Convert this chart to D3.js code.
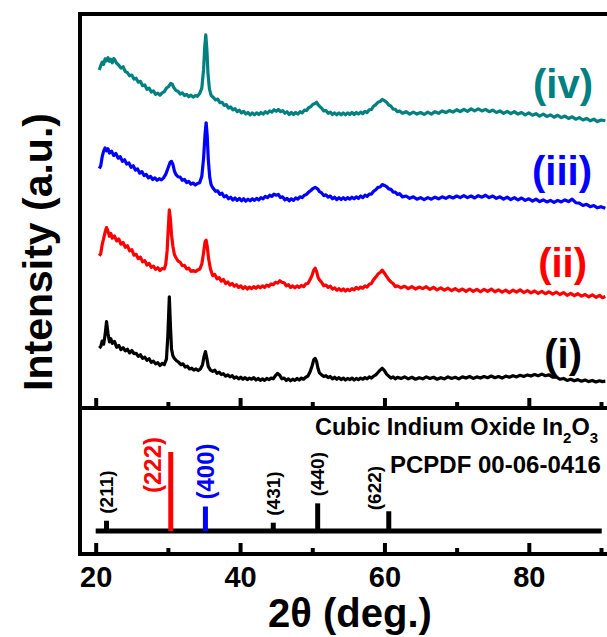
<!DOCTYPE html>
<html><head><meta charset="utf-8">
<script src="https://cdn.jsdelivr.net/npm/d3@7"></script>
<style>body{margin:0;background:#fff}svg{display:block}</style>
</head><body><svg id="chart" width="607" height="637"></svg>
<script>
// 2θ tick positions and labels
const majorTicks = [20, 40, 60, 80];
const minorTicks = [30, 50, 70, 90];

// Sample labels and colours
const sampleLabels = ["(i)", "(ii)", "(iii)", "(iv)"];
const sampleColors = ["#000000", "#ff0000", "#0000ff", "#008080"];

// XRD patterns, [2θ, intensity (a.u., offset stacked)]
const patternI = [[20.5,15.2],[20.7,15.6],[20.9,17.0],[21.1,16.2],[21.3,18.5],[21.5,21.9],[21.7,19.0],[21.9,16.8],[22.1,17.6],[22.3,16.4],[22.6,16.9],[22.9,15.4],[23.2,15.9],[23.5,14.8],[23.8,15.3],[24.1,14.5],[24.4,14.9],[24.7,14.0],[25.0,14.6],[25.3,13.8],[25.6,13.9],[25.9,13.1],[26.2,13.5],[26.5,12.6],[26.8,12.9],[27.1,12.1],[27.4,12.5],[27.7,11.6],[28.0,11.9],[28.3,11.2],[28.6,11.5],[28.9,10.8],[29.2,11.3],[29.5,11.0],[29.8,12.4],[30.0,18.5],[30.2,28.2],[30.35,21.0],[30.5,15.0],[30.7,13.2],[30.9,12.6],[31.2,12.0],[31.5,11.6],[31.8,11.0],[32.1,11.2],[32.4,10.4],[32.7,10.6],[33.0,9.9],[33.3,10.1],[33.6,9.6],[33.9,9.9],[34.2,9.5],[34.5,9.9],[34.8,11.0],[35.0,13.0],[35.2,14.3],[35.4,12.6],[35.6,10.5],[35.9,9.6],[36.2,9.3],[36.5,9.6],[36.8,8.8],[37.1,9.1],[37.4,8.5],[37.7,8.7],[38.0,8.1],[38.3,8.4],[38.6,7.9],[38.9,8.2],[39.2,7.6],[39.5,7.9],[39.8,7.4],[40.1,7.8],[40.4,7.3],[40.7,7.7],[41.0,7.2],[41.3,7.6],[41.6,7.3],[41.9,7.7],[42.2,7.1],[42.5,7.5],[42.8,7.0],[43.1,7.4],[43.4,7.0],[43.7,7.5],[44.0,7.2],[44.3,7.6],[44.6,7.4],[44.9,8.2],[45.2,8.8],[45.5,8.3],[45.8,7.4],[46.1,7.6],[46.4,7.0],[46.7,7.4],[47.0,6.9],[47.3,7.3],[47.6,7.0],[47.9,7.5],[48.2,7.1],[48.5,7.6],[48.8,7.3],[49.1,7.8],[49.4,8.1],[49.7,9.2],[50.0,10.8],[50.2,12.2],[50.4,12.6],[50.6,11.8],[50.8,10.0],[51.0,8.9],[51.3,8.4],[51.6,8.0],[51.9,8.2],[52.2,7.7],[52.5,8.0],[52.8,7.4],[53.1,7.8],[53.4,7.3],[53.7,7.7],[54.0,7.2],[54.3,7.6],[54.6,7.1],[54.9,7.5],[55.2,7.2],[55.5,7.6],[55.8,7.1],[56.1,7.5],[56.4,7.2],[56.7,7.6],[57.0,7.3],[57.3,7.7],[57.6,7.4],[57.9,7.9],[58.2,7.6],[58.5,8.1],[58.8,8.4],[59.1,9.0],[59.4,9.6],[59.7,10.1],[60.0,9.5],[60.3,8.6],[60.6,8.1],[60.9,7.6],[61.2,7.9],[61.5,7.4],[61.8,7.8],[62.3,7.5],[62.8,7.9],[63.3,7.4],[63.8,7.8],[64.3,7.3],[64.8,7.7],[65.3,7.4],[65.8,7.9],[66.3,7.5],[66.8,7.8],[67.3,7.3],[67.8,7.7],[68.3,7.4],[68.8,7.9],[69.3,7.5],[69.8,7.8],[70.3,7.4],[70.8,7.9],[71.3,7.6],[71.8,8.0],[72.3,7.5],[72.8,7.9],[73.3,7.6],[73.8,8.0],[74.3,7.7],[74.8,8.1],[75.3,7.7],[75.8,8.0],[76.3,7.6],[76.8,8.1],[77.3,7.8],[77.8,8.2],[78.3,7.9],[78.8,8.3],[79.3,8.0],[79.8,8.4],[80.3,8.1],[80.8,8.5],[81.3,8.2],[81.8,8.6],[82.3,8.2],[82.8,8.4],[83.3,7.8],[83.8,7.9],[84.3,7.3],[84.8,7.5],[85.3,7.0],[85.8,7.3],[86.3,6.9],[86.8,7.2],[87.3,6.8],[87.8,7.1],[88.3,6.7],[88.8,7.0],[89.3,6.6],[89.8,6.9],[90.2,6.7],[90.6,6.8]];

const patternII = [[20.5,38.6],[20.7,39.2],[20.9,41.5],[21.1,43.0],[21.3,44.6],[21.5,45.8],[21.7,44.9],[21.9,43.6],[22.1,44.3],[22.3,43.1],[22.6,43.7],[22.9,42.4],[23.2,42.9],[23.5,41.6],[23.8,42.0],[24.1,40.8],[24.4,41.2],[24.7,39.9],[25.0,40.2],[25.3,38.8],[25.6,39.0],[25.9,37.9],[26.2,38.3],[26.5,37.1],[26.8,37.4],[27.1,36.3],[27.4,36.7],[27.7,35.7],[28.0,36.0],[28.3,35.2],[28.6,35.6],[28.9,34.9],[29.2,35.4],[29.5,35.3],[29.7,36.4],[29.9,40.0],[30.05,45.5],[30.2,50.3],[30.35,48.0],[30.5,44.0],[30.7,41.0],[30.9,39.0],[31.1,38.2],[31.4,37.3],[31.7,37.0],[32.0,36.1],[32.3,36.2],[32.6,35.3],[32.9,35.5],[33.2,34.7],[33.5,34.9],[33.8,34.6],[34.1,35.0],[34.4,35.2],[34.7,36.5],[34.95,39.5],[35.15,42.2],[35.3,42.6],[35.45,41.0],[35.65,37.8],[35.9,35.3],[36.2,33.6],[36.5,33.9],[36.8,32.8],[37.1,33.1],[37.4,32.2],[37.7,32.6],[38.0,31.6],[38.3,32.0],[38.6,31.2],[38.9,31.6],[39.2,30.9],[39.5,31.3],[39.8,30.6],[40.1,31.0],[40.4,30.3],[40.7,30.8],[41.0,30.2],[41.3,30.7],[41.6,30.3],[41.9,30.8],[42.2,30.4],[42.5,30.9],[42.8,30.5],[43.1,31.0],[43.4,30.6],[43.7,31.2],[44.0,30.9],[44.3,31.5],[44.6,31.3],[44.9,31.9],[45.2,31.7],[45.5,32.3],[45.8,31.9],[46.1,31.8],[46.4,31.0],[46.7,31.3],[47.0,30.6],[47.3,31.0],[47.6,30.5],[47.9,31.0],[48.2,30.6],[48.5,31.1],[48.8,30.8],[49.1,31.5],[49.4,31.6],[49.7,32.6],[50.0,33.8],[50.2,35.0],[50.4,35.5],[50.6,34.6],[50.8,33.2],[51.0,32.5],[51.3,31.9],[51.6,31.0],[51.9,31.2],[52.2,30.6],[52.5,30.9],[52.8,30.2],[53.1,30.5],[53.4,29.9],[53.7,30.3],[54.0,29.8],[54.3,30.2],[54.6,29.7],[54.9,30.1],[55.2,29.8],[55.5,30.3],[55.8,30.0],[56.1,30.6],[56.4,30.2],[56.7,30.7],[57.0,30.4],[57.3,31.0],[57.6,30.7],[57.9,31.4],[58.2,31.6],[58.5,32.6],[58.8,33.2],[59.1,34.0],[59.4,34.4],[59.7,35.0],[60.0,34.2],[60.3,33.4],[60.6,32.6],[60.9,32.0],[61.2,31.6],[61.5,30.8],[61.8,31.0],[62.3,30.5],[62.8,30.9],[63.3,30.3],[63.8,30.8],[64.3,30.2],[64.8,30.7],[65.3,30.3],[65.8,30.8],[66.3,30.1],[66.8,30.6],[67.3,30.0],[67.8,30.5],[68.3,29.9],[68.8,30.4],[69.3,29.8],[69.8,30.3],[70.3,29.7],[70.8,30.2],[71.3,29.6],[71.8,30.2],[72.3,29.6],[72.8,30.1],[73.3,29.5],[73.8,30.1],[74.3,29.6],[74.8,30.2],[75.3,29.5],[75.8,30.0],[76.3,29.4],[76.8,29.9],[77.3,29.3],[77.8,29.9],[78.3,29.4],[78.8,30.0],[79.3,29.3],[79.8,29.8],[80.3,29.2],[80.8,29.7],[81.3,29.1],[81.8,29.6],[82.3,29.0],[82.8,29.5],[83.3,28.9],[83.8,29.4],[84.3,28.8],[84.8,29.3],[85.3,28.6],[85.8,29.1],[86.3,28.5],[86.8,29.0],[87.3,28.4],[87.8,28.8],[88.3,28.2],[88.8,28.7],[89.3,28.1],[89.8,28.6],[90.2,28.0],[90.6,28.3]];

const patternIII = [[20.5,60.8],[20.7,61.5],[20.9,63.8],[21.1,65.2],[21.3,66.0],[21.5,65.3],[21.7,65.8],[21.9,64.7],[22.2,65.2],[22.5,64.1],[22.8,64.6],[23.1,63.4],[23.4,63.8],[23.7,62.6],[24.0,63.0],[24.3,61.9],[24.6,62.2],[24.9,61.1],[25.2,61.5],[25.5,60.4],[25.8,60.7],[26.1,59.6],[26.4,60.0],[26.7,59.0],[27.0,59.3],[27.3,58.4],[27.6,58.8],[27.9,58.0],[28.2,58.4],[28.5,57.8],[28.8,58.2],[29.1,57.9],[29.4,58.4],[29.7,59.3],[30.0,60.8],[30.3,62.3],[30.5,62.6],[30.7,61.8],[30.9,60.2],[31.1,59.3],[31.4,58.7],[31.7,58.6],[32.0,57.8],[32.3,58.0],[32.6,57.2],[32.9,57.5],[33.2,56.8],[33.5,57.1],[33.8,56.6],[34.1,57.0],[34.4,57.2],[34.7,58.8],[34.95,63.5],[35.15,69.5],[35.3,72.4],[35.45,69.0],[35.6,63.0],[35.8,58.5],[36.0,56.6],[36.3,55.7],[36.6,55.0],[36.9,55.1],[37.2,54.2],[37.5,54.5],[37.8,53.6],[38.1,53.9],[38.4,53.1],[38.7,53.5],[39.0,52.8],[39.3,53.3],[39.6,52.7],[39.9,53.2],[40.2,52.6],[40.5,53.1],[40.8,52.5],[41.1,53.0],[41.4,52.6],[41.7,53.1],[42.0,52.7],[42.3,53.2],[42.6,52.8],[42.9,53.4],[43.2,53.1],[43.5,53.7],[43.8,53.4],[44.1,54.0],[44.4,53.7],[44.7,54.3],[45.0,54.0],[45.3,54.2],[45.6,53.4],[45.9,53.6],[46.2,52.8],[46.5,53.2],[46.8,52.6],[47.1,53.1],[47.4,52.7],[47.7,53.3],[48.0,53.0],[48.3,53.6],[48.6,53.4],[48.9,54.0],[49.2,54.2],[49.5,54.8],[49.8,55.2],[50.1,55.7],[50.4,56.0],[50.6,55.8],[50.8,55.5],[51.0,54.9],[51.3,54.6],[51.6,53.9],[51.9,54.1],[52.2,53.5],[52.5,53.8],[52.8,53.1],[53.1,53.5],[53.4,52.9],[53.7,53.4],[54.0,52.9],[54.3,53.4],[54.6,52.9],[54.9,53.4],[55.2,53.0],[55.5,53.5],[55.8,53.1],[56.1,53.6],[56.4,53.2],[56.7,53.8],[57.0,53.4],[57.3,54.0],[57.6,53.7],[57.9,54.3],[58.2,54.3],[58.5,55.0],[58.8,55.4],[59.1,56.0],[59.4,56.1],[59.7,56.7],[60.0,56.5],[60.3,56.2],[60.6,55.6],[60.9,55.5],[61.2,54.8],[61.5,54.8],[61.8,54.2],[62.1,54.4],[62.5,53.6],[63.0,53.8],[63.5,53.2],[64.0,53.6],[64.5,53.0],[65.0,53.4],[65.5,52.9],[66.0,53.4],[66.5,53.0],[67.0,53.5],[67.5,53.1],[68.0,53.6],[68.5,53.2],[69.0,53.7],[69.5,53.3],[70.0,53.8],[70.5,53.4],[71.0,53.9],[71.5,53.4],[72.0,53.8],[72.5,53.3],[73.0,53.9],[73.5,53.5],[74.0,54.0],[74.5,53.4],[75.0,53.8],[75.5,53.2],[76.0,53.6],[76.5,53.0],[77.0,53.5],[77.5,52.9],[78.0,53.4],[78.5,52.8],[79.0,53.3],[79.5,52.7],[80.0,53.1],[80.5,52.5],[81.0,53.0],[81.5,52.4],[82.0,52.8],[82.5,52.3],[83.0,52.7],[83.5,52.2],[84.0,52.7],[84.5,52.3],[85.0,52.8],[85.5,52.4],[86.0,53.0],[86.5,52.1],[87.0,52.0],[87.5,51.4],[88.0,51.7],[88.5,51.1],[89.0,51.4],[89.5,50.8],[90.0,51.1],[90.6,50.7]];

const patternIV = [[20.5,85.8],[20.7,86.9],[20.9,87.8],[21.1,87.2],[21.3,88.6],[21.5,88.1],[21.7,88.9],[21.9,88.0],[22.1,88.5],[22.3,87.6],[22.5,88.7],[22.7,88.2],[22.9,87.5],[23.2,87.0],[23.5,86.3],[23.8,86.6],[24.1,85.4],[24.4,85.1],[24.7,84.3],[25.0,84.5],[25.3,83.5],[25.6,83.7],[25.9,82.7],[26.2,82.9],[26.5,81.8],[26.8,82.0],[27.1,80.9],[27.4,81.2],[27.7,80.2],[28.0,80.5],[28.3,79.6],[28.6,79.9],[28.9,79.4],[29.2,80.0],[29.5,80.3],[29.8,81.2],[30.1,81.6],[30.4,82.4],[30.6,82.2],[30.8,81.4],[31.1,80.6],[31.4,80.4],[31.7,79.7],[32.0,80.0],[32.3,79.3],[32.6,79.6],[32.9,79.0],[33.2,79.4],[33.5,78.9],[33.8,79.3],[34.1,79.1],[34.4,79.8],[34.7,81.2],[34.95,86.0],[35.1,91.5],[35.25,94.7],[35.4,91.0],[35.55,85.0],[35.75,81.0],[36.0,79.3],[36.3,78.8],[36.6,78.2],[36.9,78.4],[37.2,77.5],[37.5,77.6],[37.8,76.8],[38.1,77.0],[38.4,76.1],[38.7,76.4],[39.0,75.7],[39.3,76.0],[39.6,75.2],[39.9,75.6],[40.2,74.9],[40.5,75.3],[40.8,74.6],[41.1,75.0],[41.4,74.4],[41.7,74.9],[42.0,74.4],[42.3,74.9],[42.6,74.5],[42.9,75.0],[43.2,74.6],[43.5,75.2],[43.8,74.8],[44.1,75.4],[44.4,75.1],[44.7,75.7],[45.0,75.3],[45.3,75.8],[45.6,75.2],[45.9,75.5],[46.2,74.8],[46.5,75.2],[46.8,74.5],[47.1,75.0],[47.4,74.5],[47.7,75.0],[48.0,74.6],[48.3,75.2],[48.6,74.9],[48.9,75.6],[49.2,75.5],[49.5,76.2],[49.8,76.5],[50.1,77.1],[50.4,77.3],[50.6,77.6],[50.8,77.0],[51.0,76.6],[51.3,76.1],[51.6,75.4],[51.9,75.5],[52.2,74.8],[52.5,75.1],[52.8,74.5],[53.1,74.9],[53.4,74.4],[53.7,74.9],[54.0,74.4],[54.3,74.9],[54.6,74.4],[54.9,74.9],[55.2,74.5],[55.5,75.0],[55.8,74.5],[56.1,75.0],[56.4,74.6],[56.7,75.1],[57.0,74.7],[57.3,75.3],[57.6,75.0],[57.9,75.7],[58.2,75.8],[58.5,76.6],[58.8,77.0],[59.1,77.6],[59.4,77.8],[59.7,78.3],[60.0,78.0],[60.3,77.6],[60.6,76.9],[60.9,76.6],[61.2,75.9],[61.5,75.8],[61.8,75.2],[62.1,75.4],[62.5,74.8],[63.0,75.2],[63.5,74.6],[64.0,75.1],[64.5,74.6],[65.0,75.0],[65.5,74.5],[66.0,75.1],[66.5,74.6],[67.0,75.2],[67.5,74.8],[68.0,75.4],[68.5,75.0],[69.0,75.5],[69.5,75.1],[70.0,75.7],[70.5,75.2],[71.0,75.8],[71.5,75.3],[72.0,75.9],[72.5,75.4],[73.0,75.9],[73.5,75.4],[74.0,75.8],[74.5,75.2],[75.0,75.6],[75.5,75.0],[76.0,75.4],[76.5,74.8],[77.0,75.3],[77.5,74.7],[78.0,75.2],[78.5,74.6],[79.0,75.0],[79.5,74.4],[80.0,74.9],[80.5,74.3],[81.0,74.7],[81.5,74.1],[82.0,74.6],[82.5,74.0],[83.0,74.4],[83.5,73.8],[84.0,74.3],[84.5,73.7],[85.0,74.1],[85.5,73.5],[86.0,73.9],[86.5,73.3],[87.0,73.7],[87.5,73.1],[88.0,73.5],[88.5,72.9],[89.0,73.3],[89.5,72.7],[90.0,73.1],[90.6,72.9]];

// Reference pattern: cubic In2O3, PCPDF 00-06-0416
const refHkl = ["(211)", "(222)", "(400)", "(431)", "(440)", "(622)"];
const refTwoTheta = [21.5, 30.4, 35.2, 44.6, 50.75, 60.6];
const refIntensity = [13, 100, 31, 10.5, 35, 25];

const patterns = [patternI, patternII, patternIII, patternIV];

// ---- layout ----
const svg = d3.select("#chart");
const FONT = "'Liberation Sans', Arial, Helvetica, sans-serif";
const frameLeft = 80, frameTop = 14, frameMid = 408, frameBottom = 554, frameRight = 640;

const x = d3.scaleLinear().domain([20, 90]).range([95.7, 601]);
const yTop = d3.scaleLinear().domain([0, 100]).range([frameMid, frameTop]);
const yRef = d3.scaleLinear().domain([0, 100]).range([531, 452]);

// ---- traces ----
const line = d3.line().x(d => x(d[0])).y(d => yTop(d[1]));
svg.append("g").selectAll("path").data(patterns).join("path")
  .attr("d", line)
  .attr("fill", "none")
  .attr("stroke", (d, i) => sampleColors[i])
  .attr("stroke-width", 3.2)
  .attr("stroke-linejoin", "round");

// sample labels, right aligned at the end of each trace
const labelAnchor = [[582, 368], [587, 277], [592, 185], [593, 98]];
svg.append("g").selectAll("text").data(sampleLabels).join("text")
  .attr("x", (d, i) => labelAnchor[i][0])
  .attr("y", (d, i) => labelAnchor[i][1])
  .attr("text-anchor", "end")
  .attr("font-family", FONT).attr("font-weight", "bold").attr("font-size", 40)
  .attr("fill", (d, i) => sampleColors[i])
  .text(d => d);

// ---- reference stick pattern ----
const refColor = h => h === "(222)" ? "#ff0000" : h === "(400)" ? "#0000ff" : "#000000";
const refIdx = d3.range(refHkl.length);
svg.append("line")
  .attr("x1", x(20)).attr("x2", x(90.1))
  .attr("y1", yRef(0)).attr("y2", yRef(0))
  .attr("stroke", "#000").attr("stroke-width", 5);
svg.append("g").selectAll("line").data(refIdx).join("line")
  .attr("x1", i => x(refTwoTheta[i])).attr("x2", i => x(refTwoTheta[i]))
  .attr("y1", yRef(0)).attr("y2", i => yRef(refIntensity[i]))
  .attr("stroke", i => refColor(refHkl[i]))
  .attr("stroke-width", 5);

// hkl labels: rotated, sitting above the stick (or beside it for the tall ones)
const hklPlace = { "(222)": [-18, 41], "(622)": [-14, -1] };
svg.append("g").selectAll("text").data(refIdx).join("text")
  .attr("transform", i => {
    const p = hklPlace[refHkl[i]] || [0, -7];
    const cx = x(refTwoTheta[i]) + p[0];
    const cy = yRef(refIntensity[i]) + p[1];
    return `translate(${cx},${cy}) rotate(-90)`;
  })
  .attr("dy", "0.35em")
  .attr("font-family", FONT).attr("font-weight", "bold")
  .attr("font-size", i => refColor(refHkl[i]) === "#000000" ? 19 : 24)
  .attr("fill", i => refColor(refHkl[i]))
  .text(i => refHkl[i]);

const title1 = svg.append("text").attr("x", 315).attr("y", 435)
  .attr("font-family", FONT).attr("font-weight", "bold").attr("font-size", 23.5);
title1.append("tspan").text("Cubic Indium Oxide In");
title1.append("tspan").attr("font-size", 15).attr("dy", 8).text("2");
title1.append("tspan").attr("dy", -8).text("O");
title1.append("tspan").attr("font-size", 15).attr("dy", 8).text("3");
svg.append("text").attr("x", 390).attr("y", 473)
  .attr("font-family", FONT).attr("font-weight", "bold").attr("font-size", 24)
  .text("PCPDF 00-06-0416");

// ---- frame ----
svg.append("path")
  .attr("d", `M${frameRight},${frameTop}H${frameLeft}V${frameBottom}H${frameRight}M${frameLeft},${frameMid}H${frameRight}`)
  .attr("fill", "none").attr("stroke", "#000").attr("stroke-width", 4)
  .attr("stroke-linejoin", "miter");

// ---- ticks (pointing up into each panel) ----
function tickRow(yPos, values, size) {
  const g = svg.append("g").attr("transform", `translate(0,${yPos})`)
    .call(d3.axisTop(x).tickValues(values).tickSize(size).tickFormat(""));
  g.select(".domain").remove();
  g.selectAll(".tick line").attr("stroke", "#000").attr("stroke-width", 4);
}
tickRow(frameMid, majorTicks, 10);
tickRow(frameMid, minorTicks, 6);
tickRow(frameBottom, majorTicks, 11);
tickRow(frameBottom, minorTicks, 6);

// tick labels
const xl = svg.append("g").attr("transform", `translate(0,${frameBottom})`)
  .call(d3.axisBottom(x).tickValues(majorTicks).tickSize(0).tickPadding(0));
xl.select(".domain").remove();
xl.selectAll(".tick text")
  .attr("y", 33).attr("dy", 0)
  .attr("font-family", FONT).attr("font-weight", "bold").attr("font-size", 29)
  .attr("fill", "#000");

// ---- axis titles ----
svg.append("text").attr("x", 350).attr("y", 627).attr("text-anchor", "middle")
  .attr("font-family", FONT).attr("font-weight", "bold").attr("font-size", 40)
  .text("2θ (deg.)");
svg.append("text")
  .attr("transform", "translate(52,252) rotate(-90)")
  .attr("text-anchor", "middle")
  .attr("font-family", FONT).attr("font-weight", "bold").attr("font-size", 41)
  .text("Intensity (a.u.)");
</script></body></html>
